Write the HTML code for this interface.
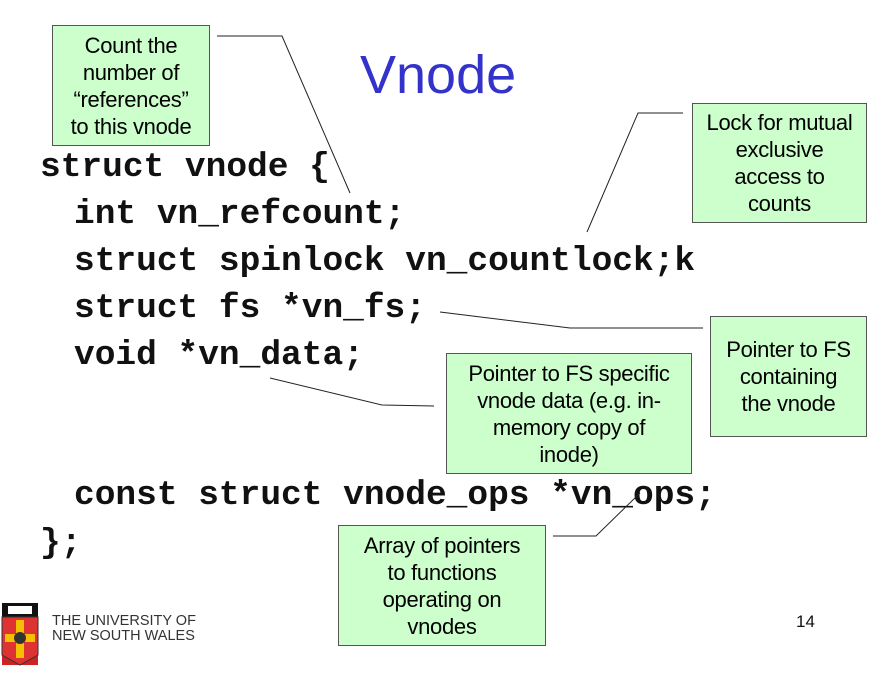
<!DOCTYPE html>
<html><head><meta charset="utf-8"><style>
body{margin:0;width:892px;height:674px;background:#fff;position:relative;overflow:hidden;font-family:"Liberation Sans",sans-serif}
.c{position:absolute;font-family:"Liberation Mono","Courier New",monospace;font-weight:bold;font-size:34.5px;line-height:40px;white-space:pre;color:#111}
.b{position:absolute;background:#ccffcc;border:1px solid #555;box-sizing:border-box;display:flex;align-items:center;justify-content:center;text-align:center;font-size:22px;line-height:27px;color:#000;letter-spacing:-0.3px}
.t{position:absolute;left:360px;top:44px;font-size:54px;color:#3333cc}
</style></head><body>
<div class="t">Vnode</div>
<div class="c" style="left:40px;top:148px">struct vnode {</div>
<div class="c" style="left:74px;top:195px">int vn_refcount;</div>
<div class="c" style="left:74px;top:242px">struct spinlock vn_countlock;k</div>
<div class="c" style="left:74px;top:289px">struct fs *vn_fs;</div>
<div class="c" style="left:74px;top:336px">void *vn_data;</div>
<div class="c" style="left:74px;top:476px">const struct vnode_ops *vn_ops;</div>
<div class="c" style="left:40px;top:524px">};</div>
<svg style="position:absolute;left:0;top:0" width="892" height="674">
<g stroke="#222" stroke-width="1" fill="none">
<polyline points="217,36 282,36 350,193"/>
<polyline points="683,113 638,113 587,232"/>
<polyline points="440,312 570,328 703,328"/>
<polyline points="270,378 382,405 434,406"/>
<polyline points="553,536 596,536 640,493"/>
</g>
<rect x="2" y="603" width="36" height="62" fill="#c22"/>
<rect x="2" y="603" width="36" height="14" fill="#111"/>
<rect x="8" y="606" width="24" height="8" fill="#fff"/>
<path d="M2,617 L38,617 L38,655 L20,665 L2,655Z" fill="#d33" stroke="#333"/>
<rect x="16" y="620" width="8" height="38" fill="#f5c000"/>
<rect x="5" y="634" width="30" height="8" fill="#f5c000"/>
<circle cx="20" cy="638" r="6" fill="#333"/>
</svg>
<div style="position:absolute;left:52px;top:614px;font-size:14.5px;line-height:15px;color:#333">THE UNIVERSITY OF<br>NEW SOUTH WALES</div>
<div style="position:absolute;left:796px;top:612px;font-size:17px;color:#111">14</div>
<div class="b" style="left:52px;top:25px;width:158px;height:121px">Count the<br>number of<br>“references”<br>to this vnode</div>
<div class="b" style="left:692px;top:103px;width:175px;height:120px">Lock for mutual<br>exclusive<br>access to<br>counts</div>
<div class="b" style="left:710px;top:316px;width:157px;height:121px">Pointer to FS<br>containing<br>the vnode</div>
<div class="b" style="left:446px;top:353px;width:246px;height:121px">Pointer to FS specific<br>vnode data (e.g. in-<br>memory copy of<br>inode)</div>
<div class="b" style="left:338px;top:525px;width:208px;height:121px">Array of pointers<br>to functions<br>operating on<br>vnodes</div>
</body></html>
